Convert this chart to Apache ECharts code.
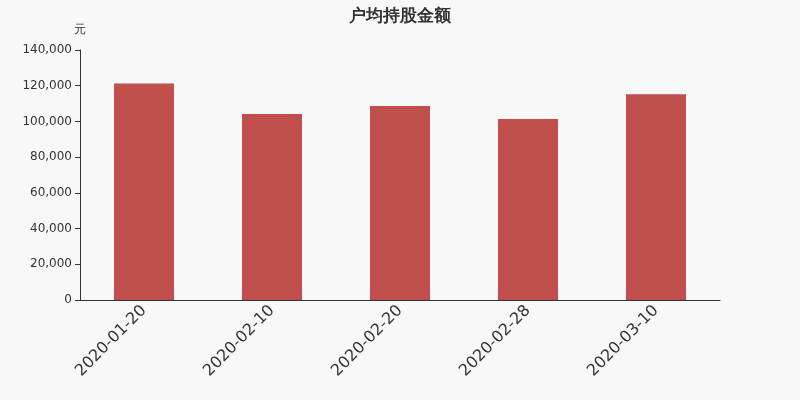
<!DOCTYPE html>
<html>
<head>
<meta charset="utf-8">
<script src="https://cdn.jsdelivr.net/npm/echarts@6/dist/echarts.min.js"></script>
<style>
  html, body { margin: 0; padding: 0; background: #f8f8f8; }
  #main { width: 800px; height: 400px; }
</style>
</head>
<body>
<div id="main"></div>
<script>
// 日期
var categories = ['2020-01-20', '2020-02-10', '2020-02-20', '2020-02-28', '2020-03-10'];
// 户均持股金额（元）
var values = [121300, 104200, 108600, 101400, 115200];

var myChart = echarts.init(document.getElementById('main'));

var option = {
    backgroundColor: '#f8f8f8',
    textStyle: { fontFamily: 'DejaVu Sans' },
    title: {
        text: '户均持股金额',
        left: 'center',
        top: 3,
        textStyle: { fontSize: 17, fontWeight: 'bold', color: '#333', fontFamily: 'DejaVu Sans' }
    },
    grid: { left: 80, right: 80, top: 50, bottom: 100 },
    xAxis: {
        type: 'category',
        data: categories,
        axisLine: { lineStyle: { color: '#333' } },
        axisTick: { lineStyle: { color: '#333' } },
        axisLabel: { rotate: 45, fontSize: 16, color: '#333', interval: 0 }
    },
    yAxis: {
        type: 'value',
        name: '元',
        nameGap: 14,
        nameTextStyle: { color: '#333', fontSize: 12 },
        min: 0,
        max: 140000,
        interval: 20000,
        axisLine: { show: true, lineStyle: { color: '#333' } },
        axisTick: { show: true, lineStyle: { color: '#333' } },
        axisLabel: { color: '#333', fontSize: 12 },
        splitLine: { show: false }
    },
    series: [{
        name: '户均持股金额',
        type: 'bar',
        data: values,
        barWidth: 60,
        itemStyle: { color: '#c0504d' }
    }]
};

myChart.setOption(option);
</script>
</body>
</html>
